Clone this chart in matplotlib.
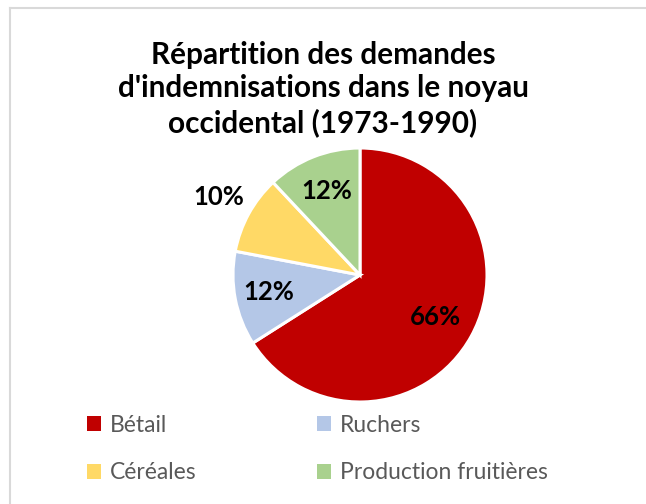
import matplotlib
matplotlib.use("Agg")
import matplotlib.pyplot as plt
from matplotlib.patches import Patch
from matplotlib.lines import Line2D
import numpy as np

plt.rcParams['font.family'] = ['Lato', 'DejaVu Sans']

categories = ["Bétail", "Ruchers", "Céréales", "Production fruitières"]
values = [66, 12, 10, 12]
colors = ["#C00000", "#B4C7E7", "#FFD966", "#A9D18E"]
label_dist = [0.68, 0.73, 1.27, 0.71]
title = "Répartition des demandes\nd'indemnisations dans le noyau\noccidental (1973-1990)"

W, H = 646, 504
fig = plt.figure(figsize=(W / 100, H / 100), dpi=100)
fig.patch.set_facecolor("white")

# partial border (top and left)
fig.add_artist(Line2D([10 / W, 1.0], [1 - 8 / H, 1 - 8 / H], color="#D9D9D9", lw=1.5))
fig.add_artist(Line2D([10 / W, 10 / W], [0, 1 - 8 / H], color="#D9D9D9", lw=1.5))

cx, cy, r = 360, 275, 127
ax = fig.add_axes([(cx - r) / W, (H - cy - r) / H, 2 * r / W, 2 * r / H])
wedges, texts, autotexts = ax.pie(
    values, colors=colors, startangle=90, counterclock=False,
    autopct=lambda p: f"{p:.0f}%", pctdistance=0.7,
    wedgeprops=dict(edgecolor="white", linewidth=2.2),
    textprops=dict(fontsize=18.5, fontweight="bold", color="black"),
)
for w, t, d in zip(wedges, autotexts, label_dist):
    ang = np.deg2rad((w.theta1 + w.theta2) / 2)
    t.set_position((d * np.cos(ang), d * np.sin(ang)))
ax.set_xlim(-1, 1)
ax.set_ylim(-1, 1)
ax.set_aspect("equal")
ax.axis("off")

fig.text(323 / W, 1 - 89 / H, title, ha="center", va="center",
         fontsize=21.4, fontweight="bold", color="black", linespacing=1.22)

# row-major legend order (legend fills column-major)
order = [0, 2, 1, 3]
handles = [Patch(facecolor=colors[i], edgecolor="none") for i in order]
labels = [categories[i] for i in order]
leg = fig.legend(handles, labels, ncol=2, loc="center left",
                 bbox_to_anchor=(71 / W, 1 - 449 / H), frameon=False,
                 fontsize=16.5, handlelength=0.6, handleheight=0.6,
                 handletextpad=0.4, columnspacing=5.25, labelspacing=1.17,
                 borderpad=0.2)
for t in leg.get_texts():
    t.set_color("#595959")

fig.savefig("out.png", dpi=100)
